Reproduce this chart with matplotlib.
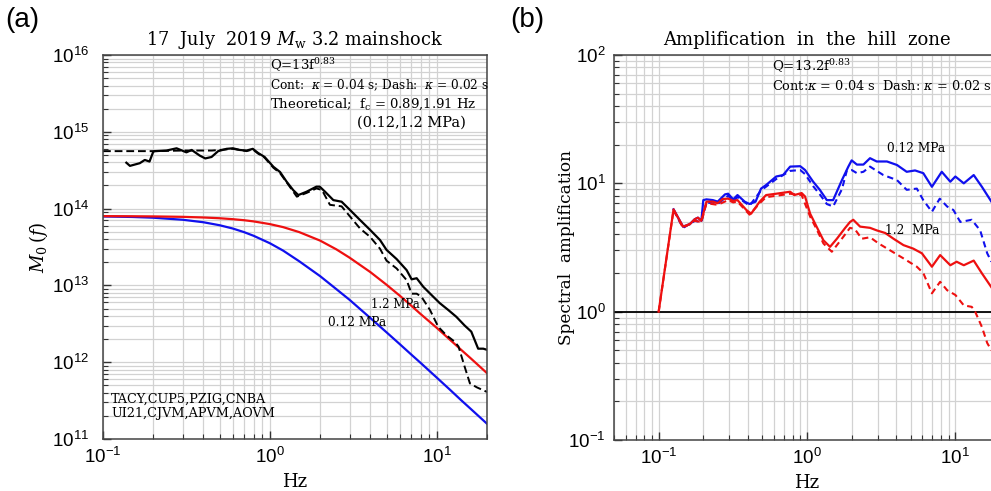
import numpy as np
import matplotlib
matplotlib.use('Agg')
import matplotlib.pyplot as plt
from matplotlib.ticker import LogLocator, NullFormatter

plt.rcParams['font.family'] = 'Liberation Sans'
plt.rcParams['mathtext.fontset'] = 'dejavuserif'

SERIF = 'DejaVu Serif'

# ---- panel (a): source spectra ----
obs_f = [0.138, 0.145, 0.166, 0.178, 0.19, 0.2, 0.205, 0.24, 0.276, 0.316, 0.34, 0.38,
         0.41, 0.447, 0.49, 0.55, 0.6, 0.66, 0.725, 0.79, 0.85, 0.93, 1.05, 1.15, 1.26,
         1.38, 1.48, 1.66, 1.9, 1.99, 2.14, 2.4, 2.69, 3.02, 3.47, 3.98, 4.57, 5.0, 5.75,
         6.6, 7.07, 7.58, 8.3, 9.3, 10.4, 11.7, 13.1, 14.7, 16.1, 17.7, 19.0, 20.0]
obs_k04 = [3.96e14, 3.6e14, 3.9e14, 4.3e14, 4.1e14, 5.5e14, 5.6e14, 5.7e14, 6.1e14, 5.4e14,
           5.8e14, 4.9e14, 4.5e14, 4.7e14, 5.6e14, 6.0e14, 6.1e14, 5.8e14, 5.7e14, 6.0e14,
           5.3e14, 4.7e14, 3.5e14, 3.0e14, 2.24e14, 1.74e14, 1.5e14, 1.66e14, 1.93e14,
           1.93e14, 1.66e14, 1.29e14, 1.23e14, 9.6e13, 7.1e13, 5.3e13, 3.9e13, 2.9e13,
           2.2e13, 1.58e13, 1.2e13, 1.24e13, 9.6e12, 7.5e12, 5.9e12, 4.8e12, 3.9e12,
           3.0e12, 2.5e12, 1.5e12, 1.5e12, 1.45e12]

dash_f = [0.1, 0.2, 0.3, 0.45, 0.55, 0.6, 0.66, 0.725, 0.79, 0.85, 0.93, 1.05, 1.15, 1.26,
          1.45, 1.66, 1.9, 2.05, 2.29, 2.69, 3.02, 3.47, 3.98, 4.57, 5.0, 5.75, 6.6, 7.07,
          7.58, 8.1, 9.1, 10.2, 11.4, 12.8, 13.5, 14.7, 15.8, 17.4, 20.0]
obs_k02 = [5.6e14, 5.6e14, 5.7e14, 5.7e14, 5.9e14, 6.0e14, 5.8e14, 5.6e14, 5.9e14, 5.2e14,
           4.6e14, 3.4e14, 2.9e14, 2.2e14, 1.43e14, 1.6e14, 1.83e14, 1.75e14, 1.12e14,
           1.07e14, 7.9e13, 5.5e13, 4.3e13, 3.0e13, 2.1e13, 1.66e13, 1.17e13, 7.8e12,
           7.8e12, 7.1e12, 4.8e12, 2.9e12, 2.25e12, 1.85e12, 1.6e12, 8.7e11, 5.3e11,
           4.7e11, 4.1e11]

theo_f = [0.1, 0.15, 0.2, 0.3, 0.4, 0.5, 0.6, 0.7, 0.8, 1.0, 1.2, 1.5, 2.0, 2.5, 3.0,
          4.0, 5.0, 6.0, 7.0, 8.0, 10.0, 12.0, 14.0, 16.0, 20.0]
theo_12mpa = [7.98e13, 7.95e13, 7.91e13, 7.81e13, 7.66e13, 7.49e13, 7.28e13, 7.06e13,
              6.81e13, 6.28e13, 5.74e13, 4.94e13, 3.83e13, 2.95e13, 2.30e13, 1.49e13,
              1.02e13, 7.35e12, 5.5e12, 4.24e12, 2.8e12, 1.96e12, 1.45e12, 1.12e12, 7.2e11]
theo_012mpa = [7.90e13, 7.78e13, 7.61e13, 7.16e13, 6.64e13, 6.07e13, 5.50e13, 4.94e13,
               4.42e13, 3.54e13, 2.84e13, 2.06e13, 1.32e13, 8.95e12, 6.5e12, 3.76e12,
               2.45e12, 1.72e12, 1.27e12, 9.8e11, 6.3e11, 4.38e11, 3.2e11, 2.46e11, 1.58e11]

# ---- panel (b): amplification ----
blue_f = [0.126, 0.146, 0.162, 0.175, 0.184, 0.194, 0.2, 0.21, 0.232, 0.25, 0.28, 0.294,
          0.318, 0.34, 0.38, 0.41, 0.45, 0.49, 0.53, 0.62, 0.69, 0.77, 0.9, 0.97, 1.1,
          1.22, 1.36, 1.5, 1.72, 1.9, 2.0, 2.17, 2.4, 2.66, 2.95, 3.46, 4.04, 4.7, 5.35,
          6.08, 6.95, 8.1, 9.25, 10.0, 11.4, 13.3, 15.1, 17.5]
blue_solid = [6.27, 4.6, 4.8, 5.25, 5.4, 5.1, 7.4, 7.5, 7.4, 7.2, 8.2, 8.3, 7.5, 8.1, 7.2,
              6.9, 7.2, 9.1, 9.7, 11.3, 11.6, 13.5, 13.6, 12.7, 10.3, 8.9, 7.4, 7.4, 10.6,
              13.5, 15.1, 14.0, 14.0, 15.7, 14.8, 14.8, 13.9, 12.3, 12.6, 12.0, 9.4, 12.3,
              10.3, 11.3, 10.0, 11.6, 9.4, 7.2]

blue_df = [0.126, 0.146, 0.175, 0.194, 0.21, 0.25, 0.294, 0.318, 0.34, 0.41, 0.49, 0.62,
           0.77, 0.9, 0.97, 1.1, 1.22, 1.36, 1.5, 1.72, 1.86, 2.0, 2.17, 2.4, 2.66, 3.27,
           4.04, 4.7, 5.5, 6.08, 6.95, 7.85, 8.8, 9.7, 10.8, 12.9, 14.7, 16.4, 17.5]
blue_dash = [6.2, 4.5, 5.1, 5.0, 7.1, 6.9, 8.0, 7.3, 7.8, 6.7, 8.8, 10.8, 12.5, 12.7, 11.8,
             9.5, 8.2, 6.9, 6.6, 9.0, 12.7, 12.7, 12.0, 12.3, 13.5, 11.6, 10.6, 8.9, 9.1,
             7.4, 6.0, 7.6, 6.6, 6.2, 5.0, 5.2, 4.3, 2.85, 2.45]

red_f = [0.1, 0.126, 0.146, 0.162, 0.175, 0.184, 0.194, 0.21, 0.232, 0.25, 0.27, 0.294,
         0.318, 0.34, 0.39, 0.42, 0.48, 0.53, 0.62, 0.77, 0.82, 0.92, 0.97, 1.05, 1.16,
         1.29, 1.43, 1.59, 1.81, 1.95, 2.05, 2.28, 2.66, 2.95, 3.37, 3.83, 4.47, 5.2,
         5.95, 6.95, 7.9, 9.25, 10.2, 11.4, 13.3, 15.1, 17.5]
red_solid = [1.0, 6.27, 4.6, 4.8, 5.25, 5.4, 5.1, 7.2, 7.2, 7.0, 7.55, 7.6, 7.3, 7.4, 6.2,
             5.8, 7.2, 8.1, 8.3, 8.6, 8.1, 8.4, 7.9, 5.8, 4.6, 3.6, 3.2, 3.7, 4.5, 5.0, 5.2,
             4.6, 4.5, 4.3, 4.1, 3.7, 3.3, 3.1, 2.85, 2.24, 2.76, 2.3, 2.45, 2.3, 2.5,
             1.99, 1.55]

red_df = [0.1, 0.126, 0.146, 0.175, 0.194, 0.21, 0.25, 0.294, 0.318, 0.34, 0.41, 0.48,
          0.53, 0.62, 0.77, 0.92, 1.05, 1.16, 1.29, 1.47, 1.76, 1.95, 2.1, 2.34, 2.66,
          3.04, 3.64, 4.47, 5.5, 6.08, 6.95, 7.9, 8.8, 10.0, 11.4, 12.9, 13.6, 15.1,
          16.4, 17.5]
red_dash = [1.0, 6.2, 4.5, 5.1, 5.0, 7.0, 6.8, 7.4, 7.1, 7.2, 5.7, 7.0, 7.8, 8.0, 8.3,
            8.1, 5.5, 4.4, 3.4, 2.93, 3.84, 4.5, 4.4, 3.7, 3.8, 3.4, 3.0, 2.6, 2.24, 2.0,
            1.39, 1.71, 1.47, 1.35, 1.12, 1.09, 1.0, 0.76, 0.57, 0.5]


def style_axis(ax):
    ax.set_xscale('log')
    ax.set_yscale('log')
    for a in (ax.xaxis, ax.yaxis):
        a.set_major_locator(LogLocator(base=10, numticks=20))
        a.set_minor_locator(LogLocator(base=10, subs=np.arange(2, 10), numticks=20))
        a.set_minor_formatter(NullFormatter())
    ax.grid(True, which='both', color='#d2d2d2', linewidth=0.9)
    ax.set_axisbelow(True)
    ax.tick_params(which='both', direction='in', top=False, right=False,
                   labelsize=13.5, colors='#333333', labelcolor='black')
    ax.tick_params(which='major', length=6, width=1)
    ax.tick_params(which='minor', length=3.5, width=0.8)
    ax.tick_params(axis='x', which='major', pad=6)
    for s in ax.spines.values():
        s.set_color('#444444')
        s.set_linewidth(1.1)


fig = plt.figure(figsize=(9.91, 4.91), dpi=100)
W, H = 991.0, 491.0

# (a)
ax1 = fig.add_axes([103 / W, (H - 439) / H, 384 / W, 384 / H])
style_axis(ax1)
ax1.tick_params(axis='y', which='major', pad=10)
ax1.plot(theo_f, theo_012mpa, color='#1010ee', lw=1.6)
ax1.plot(theo_f, theo_12mpa, color='#ee1010', lw=1.6)
ax1.plot(dash_f, obs_k02, color='black', lw=1.4, dashes=(4, 2))
ax1.plot(obs_f, obs_k04, color='black', lw=1.6)
ax1.set_xlim(0.1, 20)
ax1.set_ylim(1e11, 1e16)
ax1.set_xlabel('Hz', fontfamily=SERIF, fontsize=13)
ax1.yaxis.set_label_coords((50 - 103) / 384, 0.5)
ax1.set_ylabel(r'$M_0\,(f)$', fontsize=13)
ax1.set_title(r'17  July  2019 $M_{\rm w}$ 3.2 mainshock', fontfamily=SERIF, fontsize=12.8, pad=7)

tk = dict(transform=ax1.transAxes, fontfamily=SERIF, va='center', ha='left')
ax1.text((270 - 103) / 384, (439 - 65) / 384, r'Q=13f$^{0.83}$', fontsize=9.5, **tk)
ax1.text((270 - 103) / 384, (439 - 85) / 384,
         r'Cont:  $\kappa$ = 0.04 s; Dash:  $\kappa$ = 0.02 s', fontsize=8.7, clip_on=False, **tk)
ax1.text((270 - 103) / 384, (439 - 104) / 384,
         r'Theoretical;  f$_{\rm c}$ = 0.89,1.91 Hz', fontsize=9.5, **tk)
ax1.text((357 - 103) / 384, (439 - 123) / 384, '(0.12,1.2 MPa)', fontsize=10.5, **tk)
ax1.text((371 - 103) / 384, (439 - 305) / 384, '1.2 MPa', fontsize=8.5, **tk)
ax1.text((328 - 103) / 384, (439 - 322) / 384, '0.12 MPa', fontsize=8.7, **tk)
ax1.text((111 - 103) / 384, (439 - 399) / 384, 'TACY,CUP5,PZIG,CNBA', fontsize=9.2, **tk)
ax1.text((111 - 103) / 384, (439 - 413) / 384, 'UI21,CJVM,APVM,AOVM', fontsize=9.2, **tk)

# (b) -- axes runs past the right edge of the picture
ax2 = fig.add_axes([614 / W, (H - 440) / H, 386 / W, 385 / H])
style_axis(ax2)
ax2.tick_params(axis='y', which='major', pad=6)
ax2.axhline(1.0, color='black', lw=1.3)
ax2.plot(blue_df, blue_dash, color='#1010ee', lw=1.5, dashes=(3, 2))
ax2.plot(blue_f, blue_solid, color='#1010ee', lw=1.6)
ax2.plot(red_df, red_dash, color='#ee1010', lw=1.5, dashes=(3, 2))
ax2.plot(red_f, red_solid, color='#ee1010', lw=1.6)
ax2.set_xlim(0.05, 20)
ax2.set_ylim(0.1, 100)
ax2.set_xlabel('Hz', fontfamily=SERIF, fontsize=13)
ax2.yaxis.set_label_coords((575 - 614) / 386, 0.5)
ax2.set_ylabel('Spectral  amplification', fontfamily=SERIF, fontsize=12.2)
ax2.set_title('Amplification  in  the  hill  zone', fontfamily=SERIF, fontsize=13, pad=7)

tk2 = dict(transform=ax2.transAxes, fontfamily=SERIF, va='center', ha='left')
ax2.text((772 - 614) / 386, (440 - 66) / 385, r'Q=13.2f$^{0.83}$', fontsize=9.6, **tk2)
ax2.text((772 - 614) / 386, (440 - 86) / 385,
         r'Cont:$\kappa$ = 0.04 s  Dash: $\kappa$ = 0.02 s', fontsize=9.3, **tk2)
ax2.text((887 - 614) / 386, (440 - 149) / 385, '0.12 MPa', fontsize=8.7, **tk2)
ax2.text((885 - 614) / 386, (440 - 230) / 385, '1.2  MPa', fontsize=8.7, **tk2)

fig.text(5 / W, 1 - 20 / H, '(a)', fontsize=20, va='center', ha='left')
fig.text(510 / W, 1 - 20 / H, '(b)', fontsize=20, va='center', ha='left')

fig.savefig('out.png', dpi=100)
